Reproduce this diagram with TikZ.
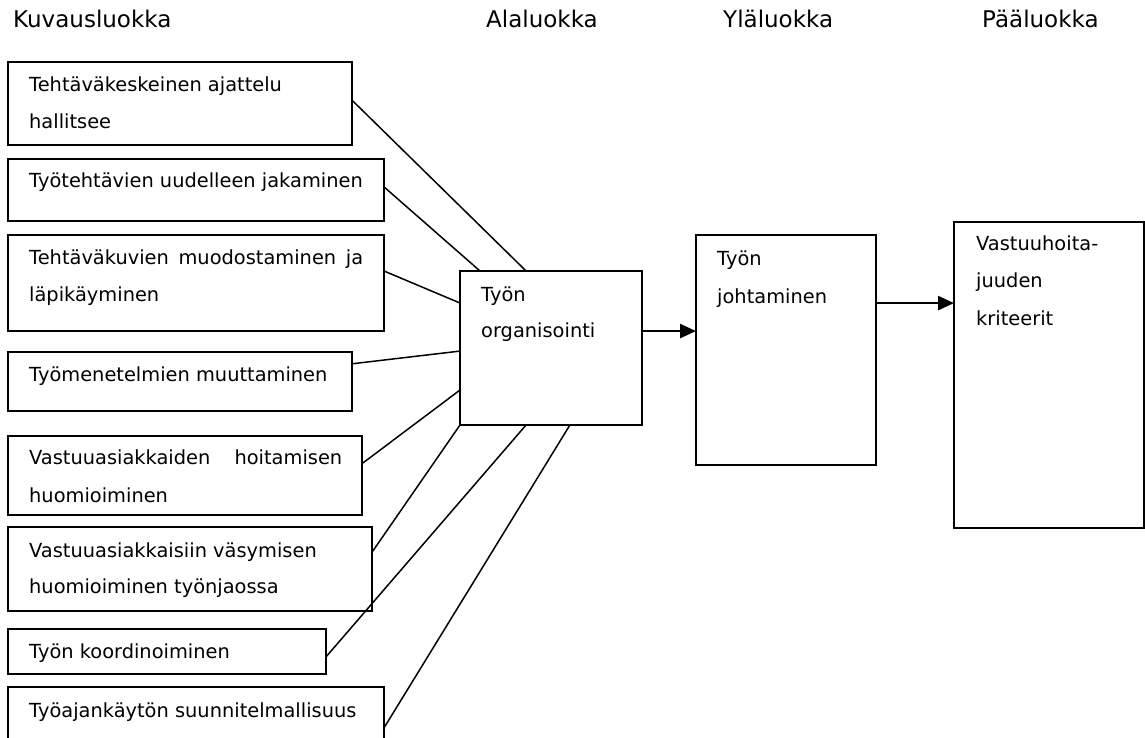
\documentclass[tikz,border=0pt]{standalone}
\usepackage{fontspec}
\setmainfont{DejaVu Sans}
\usetikzlibrary{calc,arrows.meta}

\begin{document}
\begin{tikzpicture}[x=1pt,y=-1pt,
  box/.style={draw,line width=1.9pt,anchor=north west,inner sep=0pt,outer sep=0pt},
  txt/.style={anchor=base west,inner sep=0pt,font=\fontsize{19.4}{22}\selectfont},
  head/.style={anchor=base west,inner sep=0pt,font=\fontsize{23}{26}\selectfont},
  link/.style={line width=1.5pt},
  flow/.style={line width=2.6pt,-{Triangle[length=16pt,width=14pt]}}]
\useasboundingbox (0,0) rectangle (1145,738);

% column headings
\node[head] (h1) at (13,28) {Kuvausluokka};
\node[head] (h2) at (486,28) {Alaluokka};
\node[head] (h3) at (723,28) {Yläluokka};
\node[head] (h4) at (982,28) {Pääluokka};

% description boxes
\node[box,minimum width=344pt,minimum height=83pt] (b1) at (8,62) {};
\node[box,minimum width=376pt,minimum height=62pt] (b2) at (8,159) {};
\node[box,minimum width=376pt,minimum height=96pt] (b3) at (8,235) {};
\node[box,minimum width=344pt,minimum height=59pt] (b4) at (8,352) {};
\node[box,minimum width=354pt,minimum height=79pt] (b5) at (8,436) {};
\node[box,minimum width=364pt,minimum height=84pt] (b6) at (8,527) {};
\node[box,minimum width=318pt,minimum height=45pt] (b7) at (8,629) {};
\node[box,minimum width=376pt,minimum height=73pt] (b8) at (8,687) {};

\node[txt] (t1a) at (29,92) {Tehtäväkeskeinen ajattelu};
\node[txt] (t1b) at (29,129) {hallitsee};
\node[txt] (t2) at (29,188) {Työtehtävien uudelleen jakaminen};
\node[txt] (t3a) at (29,264) {\makebox[334pt][s]{Tehtäväkuvien muodostaminen ja}};
\node[txt] (t3b) at (29,301) {läpikäyminen};
\node[txt] (t4) at (29,381) {Työmenetelmien muuttaminen};
\node[txt] (t5a) at (29,464) {\makebox[313pt][s]{Vastuuasiakkaiden hoitamisen}};
\node[txt] (t5b) at (29,502) {huomioiminen};
\node[txt] (t6a) at (29,557) {Vastuuasiakkaisiin väsymisen};
\node[txt] (t6b) at (29,593) {huomioiminen työnjaossa};
\node[txt] (t7) at (29,658) {Työn koordinoiminen};
\node[txt] (t8) at (29,717) {Työajankäytön suunnitelmallisuus};

% category boxes
\node[box,minimum width=182pt,minimum height=154pt] (org) at (460,271) {};
\node[box,minimum width=180pt,minimum height=230pt] (joht) at (696,235) {};
\node[box,minimum width=190pt,minimum height=306pt] (paa) at (954,222) {};

\node[txt] (o1) at (481,301) {Työn};
\node[txt] (o2) at (481,337) {organisointi};
\node[txt] (j1) at (717,265) {Työn};
\node[txt] (j2) at (717,303) {johtaminen};
\node[txt] (p1) at (976,250) {Vastuuhoita-};
\node[txt] (p2) at (976,287) {juuden};
\node[txt] (p3) at (976,325) {kriteerit};

% connectors into the subcategory
\draw[link] ($(b1.north east)!0.46!(b1.south east)$) -- ($(org.north west)!0.363!(org.north east)$);
\draw[link] ($(b2.north east)!0.45!(b2.south east)$) -- ($(org.north west)!0.11!(org.north east)$);
\draw[link] ($(b3.north east)!0.375!(b3.south east)$) -- ($(org.north west)!0.208!(org.south west)$);
\draw[link] ($(b4.north east)!0.2!(b4.south east)$) -- ($(org.north west)!0.52!(org.south west)$);
\draw[link] ($(b5.north east)!0.35!(b5.south east)$) -- ($(org.north west)!0.773!(org.south west)$);
\draw[link] ($(b6.north east)!0.3!(b6.south east)$) -- (org.south west);
\draw[link] ($(b7.north east)!0.62!(b7.south east)$) -- ($(org.south west)!0.363!(org.south east)$);
\draw[link] ($(b8.north east)!0.56!(b8.south east)$) -- ($(org.south west)!0.604!(org.south east)$);

% flow between the category levels
\coordinate (a1) at ($(org.north east)!0.39!(org.south east)$);
\draw[flow] (a1) -- (a1 -| joht.west);
\coordinate (a2) at ($(joht.north east)!0.296!(joht.south east)$);
\draw[flow] (a2) -- (a2 -| paa.west);
\end{tikzpicture}
\end{document}
